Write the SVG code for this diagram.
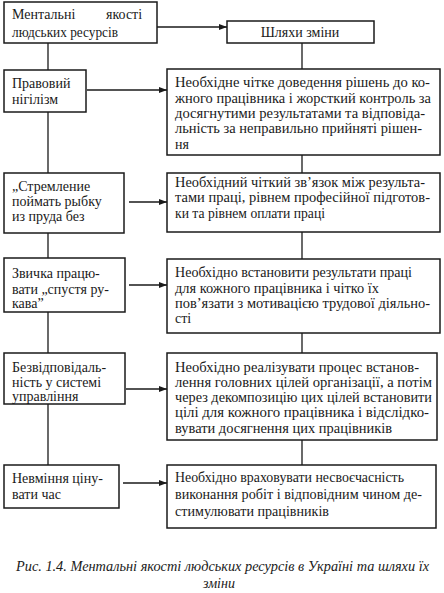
<svg xmlns="http://www.w3.org/2000/svg" width="444" height="593" viewBox="0 0 444 593">
<style>
.box{fill:#fff;stroke:#1a1a1a;stroke-width:1.5}
.t{font-family:"Liberation Serif","DejaVu Serif",serif;font-size:14px;fill:#1a1a1a}
.c{stroke:#1a1a1a;stroke-width:1.3;fill:none}
.cap{font-family:"Liberation Serif","DejaVu Serif",serif;font-size:14px;font-style:italic;fill:#1a1a1a}
</style>
<defs>
<marker id="ah" viewBox="0 0 8 6" refX="8" refY="3" markerWidth="8" markerHeight="6" markerUnits="userSpaceOnUse" orient="auto">
<path d="M0,0 L8,3 L0,6 Z" fill="#1a1a1a"/>
</marker>
</defs>
<rect width="444" height="593" fill="#fff"/>
<g id="connectors">
<path class="c" d="M157,27 H227" marker-end="url(#ah)"/>
<path class="c" d="M48,43 V70"/>
<path class="c" d="M302,43 V69"/>
<path class="c" d="M87,90 H167" marker-end="url(#ah)"/>
<path class="c" d="M48,112 V173"/>
<path class="c" d="M302,155 V173"/>
<path class="c" d="M129,202 H167" marker-end="url(#ah)"/>
<path class="c" d="M48,233 V258"/>
<path class="c" d="M302,232 V259"/>
<path class="c" d="M129,285 H167" marker-end="url(#ah)"/>
<path class="c" d="M48,312 V353"/>
<path class="c" d="M302,333 V353"/>
<path class="c" d="M126,389 H167" marker-end="url(#ah)"/>
<path class="c" d="M48,404 V465"/>
<path class="c" d="M302,440 V465"/>
<path class="c" d="M123,483 H167" marker-end="url(#ah)"/>
</g>
<g id="n-mental">
<rect class="box" x="4" y="2" width="153" height="41"/>
<text class="t" x="12" y="19"><tspan>Ментальні</tspan><tspan x="106">якості</tspan></text>
<text class="t" x="12" y="37" textLength="106" lengthAdjust="spacingAndGlyphs">людських ресурсів</text>
</g>
<g id="n-shlyakhy">
<rect class="box" x="227" y="21" width="147" height="22"/>
<text class="t" x="300" y="37" text-anchor="middle">Шляхи зміни</text>
</g>
<g id="n-nihilism">
<rect class="box" x="4" y="70" width="82" height="42"/>
<text class="t" x="12" y="88">Правовий</text>
<text class="t" x="12" y="104">нігілізм</text>
</g>
<g id="n-way1">
<rect class="box" x="167" y="69" width="273" height="86"/>
<text class="t" x="175" y="87" textLength="255" lengthAdjust="spacingAndGlyphs">Необхідне чітке доведення рішень до ко-</text>
<text class="t" x="175" y="103" textLength="256" lengthAdjust="spacingAndGlyphs">жного працівника і жорсткий контроль за</text>
<text class="t" x="175" y="118" textLength="250" lengthAdjust="spacingAndGlyphs">досягнутими результатами та відповіда-</text>
<text class="t" x="175" y="133" textLength="247" lengthAdjust="spacingAndGlyphs">льність за неправильно прийняті рішен-</text>
<text class="t" x="175" y="149">ня</text>
</g>
<g id="n-fish">
<rect class="box" x="4" y="173" width="120" height="60"/>
<text class="t" x="12" y="191">„Стремление</text>
<text class="t" x="12" y="206">поймать рыбку</text>
<text class="t" x="12" y="221">из пруда без</text>
</g>
<g id="n-way2">
<rect class="box" x="167" y="173" width="273" height="59"/>
<text class="t" x="175" y="187" textLength="250" lengthAdjust="spacingAndGlyphs">Необхідний чіткий зв’язок між результа-</text>
<text class="t" x="175" y="202" textLength="255" lengthAdjust="spacingAndGlyphs">тами праці, рівнем професійної підготов-</text>
<text class="t" x="175" y="218" textLength="150" lengthAdjust="spacingAndGlyphs">ки та рівнем оплати праці</text>
</g>
<g id="n-sleeves">
<rect class="box" x="4" y="258" width="121" height="54"/>
<text class="t" x="12" y="278">Звичка працю-</text>
<text class="t" x="12" y="294">вати „спустя ру-</text>
<text class="t" x="12" y="308">кава”</text>
</g>
<g id="n-way3">
<rect class="box" x="167" y="259" width="273" height="74"/>
<text class="t" x="175" y="277" textLength="237" lengthAdjust="spacingAndGlyphs">Необхідно встановити результати праці</text>
<text class="t" x="175" y="293" textLength="204" lengthAdjust="spacingAndGlyphs">для кожного працівника і чітко їх</text>
<text class="t" x="175" y="308" textLength="255" lengthAdjust="spacingAndGlyphs">пов’язати з мотивацією трудової діяльно-</text>
<text class="t" x="175" y="323">сті</text>
</g>
<g id="n-irresp">
<rect class="box" x="4" y="353" width="121" height="51"/>
<text class="t" x="12" y="372">Безвідповідаль-</text>
<text class="t" x="12" y="387">ність у системі</text>
<text class="t" x="12" y="401">управління</text>
</g>
<g id="n-way4">
<rect class="box" x="167" y="353" width="270" height="87"/>
<text class="t" x="175" y="372" textLength="244" lengthAdjust="spacingAndGlyphs">Необхідно реалізувати процес встанов-</text>
<text class="t" x="175" y="387" textLength="257" lengthAdjust="spacingAndGlyphs">лення головних цілей організації, а потім</text>
<text class="t" x="175" y="402" textLength="257" lengthAdjust="spacingAndGlyphs">через декомпозицію цих цілей встановити</text>
<text class="t" x="175" y="417" textLength="254" lengthAdjust="spacingAndGlyphs">цілі для кожного працівника і відслідко-</text>
<text class="t" x="175" y="433" textLength="217" lengthAdjust="spacingAndGlyphs">вувати досягнення цих працівників</text>
</g>
<g id="n-time">
<rect class="box" x="4" y="465" width="115" height="43"/>
<text class="t" x="12" y="483">Невміння ціну-</text>
<text class="t" x="12" y="499">вати час</text>
</g>
<g id="n-way5">
<rect class="box" x="167" y="465" width="269" height="63"/>
<text class="t" x="175" y="482" textLength="229" lengthAdjust="spacingAndGlyphs">Необхідно враховувати несвоєчасність</text>
<text class="t" x="175" y="499" textLength="247" lengthAdjust="spacingAndGlyphs">виконання робіт і відповідним чином де-</text>
<text class="t" x="175" y="516" textLength="154" lengthAdjust="spacingAndGlyphs">стимулювати працівників</text>
</g>
<g id="caption">
<text class="cap" x="16" y="571" textLength="413" lengthAdjust="spacingAndGlyphs">Рис. 1.4. Ментальні якості людських ресурсів в Україні та шляхи їх</text>
<text class="cap" x="219" y="588" text-anchor="middle">зміни</text>
</g>
</svg>
